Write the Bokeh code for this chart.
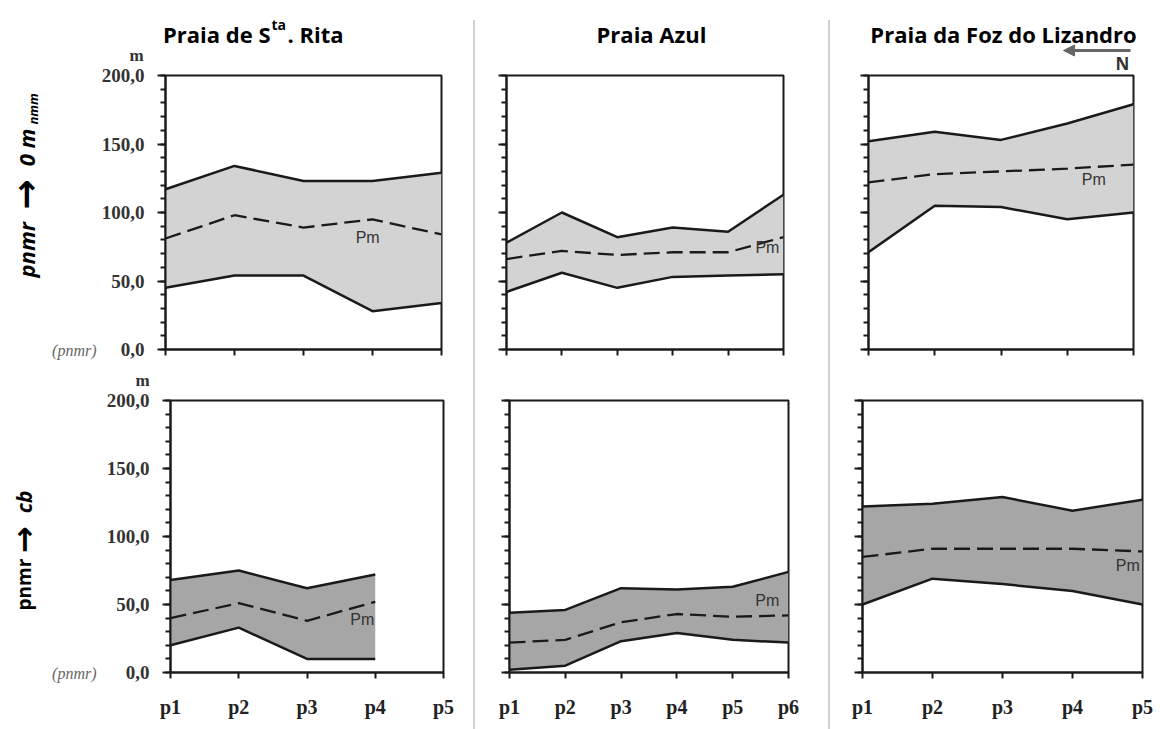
import math
from bokeh.plotting import figure
from bokeh.models import (Range1d, FixedTicker, Label, Arrow, NormalHead,
                          CustomLabelingPolicy)
from bokeh.layouts import row, column
from bokeh.embed import file_html
from bokeh.resources import INLINE

# ---------------- data ----------------
cats_rita = ["p1", "p2", "p3", "p4", "p5"]
cats_azul = ["p1", "p2", "p3", "p4", "p5", "p6"]
cats_liz = ["p1", "p2", "p3", "p4", "p5"]

y_tick_values = [0, 50, 100, 150, 200]
y_tick_labels = ["0,0", "50,0", "100,0", "150,0", "200,0"]
y_minor_step = 10

# row 1 : pnmr -> 0 m nmm
rita_0m_upper = [117, 134, 123, 123, 129]
rita_0m_mean = [81, 98, 89, 95, 84]
rita_0m_lower = [45, 54, 54, 28, 34]

azul_0m_upper = [78, 100, 82, 89, 86, 113]
azul_0m_mean = [66, 72, 69, 71, 71, 82]
azul_0m_lower = [42, 56, 45, 53, 54, 55]

liz_0m_upper = [152, 159, 153, 165, 179]
liz_0m_mean = [122, 128, 130, 132, 135]
liz_0m_lower = [71, 105, 104, 95, 100]

# row 2 : pnmr -> cb
rita_cb_upper = [68, 75, 62, 72]
rita_cb_mean = [40, 51, 38, 52]
rita_cb_lower = [20, 33, 10, 10]

azul_cb_upper = [44, 46, 62, 61, 63, 74]
azul_cb_mean = [22, 24, 37, 43, 41, 42]
azul_cb_lower = [2, 5, 23, 29, 24, 22]

liz_cb_upper = [122, 124, 129, 119, 127]
liz_cb_mean = [85, 91, 91, 91, 89]
liz_cb_lower = [50, 69, 65, 60, 50]

# ---------------- style ----------------
SERIF = "Liberation Serif"
SANS = "Open Sans"
ARROWFONT = "DejaVu Sans"
INK = "#1a1a1a"
FILL_TOP = "#d3d3d3"
FILL_BOT = "#a6a6a6"

NO_LABELS = ("const n = indices.size; "
             "for (let i = 0; i < n; i++) { indices.unset(i) } "
             "return indices")


def hide_labels(ax):
    ax.major_label_policy = CustomLabelingPolicy(code=NO_LABELS)
    ax.major_label_text_font_size = "1px"
    ax.major_label_standoff = 0


def panel(cats, upper, mean, lower, fill, mbl, fw, mbr, mbt, fh, mbb,
          y_labels, x_labels, pm_x, pm_y):
    n = len(cats)
    p = figure(title=None, frame_width=fw, frame_height=fh,
               min_border_left=mbl, min_border_right=mbr,
               min_border_top=mbt, min_border_bottom=mbb,
               x_range=Range1d(1, n), y_range=Range1d(0, 200),
               output_backend="svg", toolbar_location=None)
    p.frame_align = False
    p.background_fill_color = "white"
    p.border_fill_color = "white"
    p.outline_line_color = INK
    p.outline_line_width = 2
    p.xgrid.visible = False
    p.ygrid.visible = False

    xs = list(range(1, len(upper) + 1))
    p.varea(x=xs, y1=lower, y2=upper, fill_color=fill)
    p.line(xs, upper, line_color=INK, line_width=2.5)
    p.line(xs, lower, line_color=INK, line_width=2.5)
    p.line(xs, mean, line_color=INK, line_width=2.3, line_dash="16 7")

    p.add_layout(Label(x=pm_x, y=pm_y, text="Pm", text_font="Liberation Sans",
                       text_font_size="16px", text_color="#333333",
                       text_align="center", text_baseline="middle"))

    # y axis
    ya = p.yaxis[0]
    ya.ticker = FixedTicker(ticks=y_tick_values,
                            minor_ticks=list(range(0, 201, y_minor_step)))
    ya.axis_line_width = 2
    ya.axis_line_color = INK
    ya.major_tick_line_width = 2
    ya.major_tick_line_color = INK
    ya.minor_tick_line_width = 1.8
    ya.minor_tick_line_color = INK
    ya.major_tick_in = 0
    ya.major_tick_out = 8
    ya.minor_tick_in = 0
    ya.minor_tick_out = 5
    if y_labels:
        ya.major_label_overrides = dict(zip(y_tick_values, y_tick_labels))
        ya.major_label_text_font = SERIF
        ya.major_label_text_font_style = "bold"
        ya.major_label_text_font_size = "19px"
        ya.major_label_text_color = "#333333"
        ya.major_label_standoff = 13
    else:
        hide_labels(ya)

    # x axis
    xa = p.xaxis[0]
    xa.ticker = FixedTicker(ticks=list(range(1, n + 1)), minor_ticks=[])
    xa.axis_line_width = 2
    xa.axis_line_color = INK
    xa.major_tick_line_width = 2
    xa.major_tick_line_color = INK
    xa.major_tick_in = 0
    xa.major_tick_out = 6
    if x_labels:
        xa.major_label_overrides = {i + 1: c for i, c in enumerate(cats)}
        xa.major_label_text_font = SERIF
        xa.major_label_text_font_style = "bold"
        xa.major_label_text_font_size = "20px"
        xa.major_label_text_color = "#222222"
        xa.major_label_standoff = 17
    else:
        hide_labels(xa)
    return p


def sheet(w, h):
    """Blank drawing strip whose data units are pixels (y downwards)."""
    s = figure(title=None, frame_width=w, frame_height=h, min_border=0,
               x_axis_type=None, y_axis_type=None,
               x_range=Range1d(0, w), y_range=Range1d(h, 0),
               output_backend="svg", toolbar_location=None)
    s.frame_align = False
    s.grid.visible = False
    s.outline_line_color = None
    s.background_fill_color = "white"
    s.border_fill_color = "white"
    return s


def lab(p, x, y, text, size, font=SANS, style="bold", color="black",
        align="left", baseline="alphabetic", angle=0.0):
    p.add_layout(Label(x=x, y=y, text=text,
                       text_font=font, text_font_style=style,
                       text_font_size=size, text_color=color,
                       text_align=align, text_baseline=baseline, angle=angle))


H = 729
SIDE_W = 98
HEAD_H = 74
UP = math.pi / 2

# ---- column 1 (Praia de Sta. Rita) ----
side1 = sheet(SIDE_W, H)
head1 = sheet(370, 66)
tl = panel(cats_rita, rita_0m_upper, rita_0m_mean, rita_0m_lower, FILL_TOP,
           67, 276, 27, 9, 274, 10, True, False, 3.93, 81.5)
mid1 = sheet(370, 32)
bl = panel(cats_rita, rita_cb_upper, rita_cb_mean, rita_cb_lower, FILL_BOT,
           72, 273, 25, 9, 272, 57, True, True, 3.81, 39)

lab(head1, 172, 33, "Praia de S", "22px", align="right")
lab(head1, 173, 24, "ta", "14px", align="left")
lab(head1, 189, 33, ". Rita", "22px", align="left")
lab(head1, 38, 55, "m", "17px", font=SERIF, color="#333333",
    align="center", baseline="middle")
lab(mid1, 44, 21, "m", "17px", font=SERIF, color="#333333",
    align="center", baseline="middle")

# row label 1 : pnmr -> 0 m nmm  (reads bottom to top)
lab(side1, 25, 277, "pnmr", "22px", style="bold italic",
    align="left", baseline="middle", angle=UP)
lab(side1, 25, 194, "\u2192", "36px", font=ARROWFONT, style="bold",
    align="center", baseline="middle", angle=UP)
lab(side1, 25, 128, "0 m", "22px", style="bold italic",
    align="right", baseline="middle", angle=UP)
lab(side1, 32, 124, "nmm", "13px", style="bold italic",
    align="left", baseline="middle", angle=UP)
lab(side1, 96, 350, "(pnmr)", "16px", font=SERIF, style="italic",
    color="#666666", align="right", baseline="middle")

# row label 2 : pnmr -> cb
lab(side1, 23, 610, "pnmr", "19px", style="bold",
    align="left", baseline="middle", angle=UP)
lab(side1, 23, 539, "\u2192", "32px", font=ARROWFONT, style="bold",
    align="center", baseline="middle", angle=UP)
lab(side1, 23, 490, "cb", "21px", style="bold italic",
    align="right", baseline="middle", angle=UP)
lab(side1, 96, 673, "(pnmr)", "16px", font=SERIF, style="italic",
    color="#666666", align="right", baseline="middle")

# ---- column 2 (Praia Azul) ----
head2 = sheet(345, HEAD_H)
tm = panel(cats_azul, azul_0m_upper, azul_0m_mean, azul_0m_lower, FILL_TOP,
           28, 277, 40, 1, 274, 16, False, False, 5.71, 74.5)
bm = panel(cats_azul, azul_cb_upper, azul_cb_mean, azul_cb_lower, FILL_BOT,
           31, 279, 35, 35, 272, 57, False, True, 5.62, 53)
lab(head2, 173, 33, "Praia Azul", "22px", align="center")

# ---- column 3 (Praia da Foz do Lizandro) ----
head3 = sheet(327, HEAD_H)
tr = panel(cats_liz, liz_0m_upper, liz_0m_mean, liz_0m_lower, FILL_TOP,
           35, 265, 27, 1, 274, 16, False, False, 4.4, 124)
br = panel(cats_liz, liz_cb_upper, liz_cb_mean, liz_cb_lower, FILL_BOT,
           29, 280, 18, 35, 272, 57, False, True, 4.79, 79)
lab(head3, 170, 33, "Praia da Foz do Lizandro", "22px", align="center")
head3.add_layout(Arrow(x_start=297, y_start=50, x_end=230, y_end=50,
                       line_color="#666666", line_width=3,
                       end=NormalHead(size=11, fill_color="#666666",
                                      line_color="#666666")))
lab(head3, 289, 63, "N", "17px", color="#333333", align="center",
    baseline="middle")


def separator():
    s = sheet(10, H)
    s.segment(x0=[5.5], y0=[20], x1=[5.5], y1=[H], line_color="#444444",
              line_width=1, line_dash="1 1")
    return s


layout = row(
    row(side1, column(head1, tl, mid1, bl)),
    separator(),
    column(head2, tm, bm),
    separator(),
    column(head3, tr, br),
)

open("out.html", "w").write(file_html(layout, INLINE))
